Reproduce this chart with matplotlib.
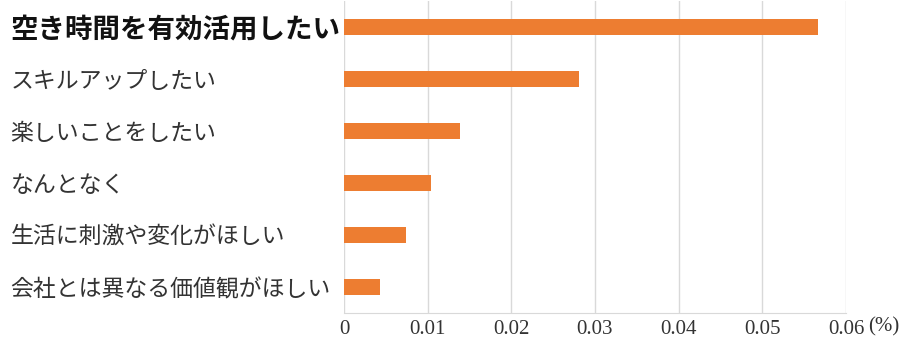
import matplotlib.pyplot as plt

# data (top to bottom as shown)
labels = ['空き時間を有効活用したい', 'スキルアップしたい', '楽しいことをしたい',
          'なんとなく', '生活に刺激や変化がほしい', '会社とは異なる価値観がほしい']
values = [0.0566, 0.0281, 0.0139, 0.0104, 0.0074, 0.0043]
x_ticks = [0, 0.01, 0.02, 0.03, 0.04, 0.05, 0.06]
x_labels = ['0', '0.01', '0.02', '0.03', '0.04', '0.05', '0.06']

jp = ['Noto Sans CJK JP', 'DejaVu Sans']

fig = plt.figure(figsize=(9.12, 3.42), dpi=100)
ax = fig.add_axes([344 / 912, 29 / 342, 502 / 912, 312 / 342])

pos = list(range(len(labels)))[::-1]
ax.barh(pos, values, height=0.32, color='#ED7D31', zorder=3)

ax.set_xlim(0, 0.06)
ax.set_ylim(-0.5, len(labels) - 0.5)
ax.set_xticks(x_ticks)
ax.set_xticklabels(x_labels, family='Liberation Serif')
ax.grid(axis='x', color='#D9D9D9', linewidth=1, zorder=0)

for s in ['top', 'right', 'left']:
    ax.spines[s].set_visible(False)
ax.spines['bottom'].set_color('#D9D9D9')

ax.set_yticks(pos)
ax.set_yticklabels(labels, family=jp, fontsize=16.5, color='#333333')
ax.tick_params(axis='y', length=0, pad=240)
for i, t in enumerate(ax.get_yticklabels()):
    t.set_horizontalalignment('left')
    if i == 0:
        t.set_fontsize(19.8)
        t.set_fontweight('bold')
        t.set_color('#111111')

ax.tick_params(axis='x', length=0, pad=5, labelsize=15, labelcolor='#333333')

fig.text(868 / 912, 15 / 342, '(%)', family='Liberation Serif',
         fontsize=15, color='#333333', va='center', ha='left')

fig.savefig('out.png', dpi=100)
